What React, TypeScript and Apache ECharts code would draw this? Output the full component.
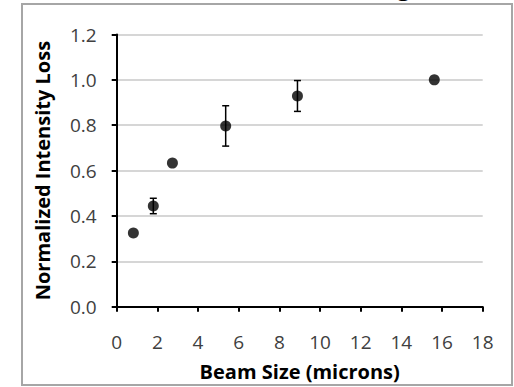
import React, { useEffect, useRef } from "react";
import * as echarts from "echarts";

const beamSize = [0.82, 1.8, 2.74, 5.36, 8.89, 15.62];
const intensityLoss = [0.325, 0.444, 0.633, 0.797, 0.929, 1.0];
const errorAmount = [0, 0.034, 0, 0.089, 0.068, 0];

const FONT = "Open Sans";

export default function App() {
  const ref = useRef<HTMLDivElement>(null);
  useEffect(() => {
    if (!ref.current) return;
    const chart = echarts.init(ref.current, null, { renderer: "svg" });
    const points = beamSize.map((x, i) => [x, intensityLoss[i]]);
    const errs = beamSize
      .map((x, i) => [x, intensityLoss[i], errorAmount[i]])
      .filter((d) => d[2] > 0);
    chart.setOption({
      animation: false,
      backgroundColor: "#ffffff",
      grid: { left: 116.7, right: 31.3, top: 34.5, bottom: 80.3, containLabel: false },
      graphic: [
        {
          type: "rect",
          shape: { x: 22, y: 4, width: 490, height: 381 },
          style: { fill: "none", stroke: "#a6a6a6", lineWidth: 2 },
          z: -1,
        },
        {
          type: "text",
          x: 397,
          y: -27,
          style: { text: "g", fill: "#000", font: `bold 24px ${FONT}` },
        },
      ],
      xAxis: {
        type: "value",
        min: 0,
        max: 18,
        interval: 2,
        name: "Beam Size (microns)",
        nameLocation: "middle",
        nameGap: 55,
        nameTextStyle: { fontFamily: FONT, fontWeight: "bold", fontSize: 20, color: "#000" },
        axisLine: { show: true, onZero: false, lineStyle: { color: "#000", width: 2 } },
        axisTick: { show: true, length: 5, lineStyle: { color: "#000", width: 2 } },
        axisLabel: { fontFamily: FONT, fontSize: 19, color: "#404040", margin: 26 },
        splitLine: { show: false },
      },
      yAxis: {
        type: "value",
        min: 0,
        max: 1.2,
        interval: 0.2,
        name: "Normalized Intensity Loss",
        nameLocation: "middle",
        nameGap: 64,
        nameTextStyle: { fontFamily: FONT, fontWeight: "bold", fontSize: 20, color: "#000" },
        axisLine: { show: true, lineStyle: { color: "#000", width: 2 } },
        axisTick: { show: true, length: 5, lineStyle: { color: "#000", width: 2 } },
        axisLabel: {
          fontFamily: FONT,
          fontSize: 19,
          color: "#404040",
          margin: 20,
          formatter: (v: number) => v.toFixed(1),
        },
        splitLine: { show: true, lineStyle: { color: "#c8c8c8", width: 1.5 } },
      },
      series: [
        {
          type: "custom",
          data: errs,
          z: 3,
          renderItem: (params: any, api: any) => {
            const x = api.value(0);
            const y = api.value(1);
            const e = api.value(2);
            const top = api.coord([x, y + e]);
            const bot = api.coord([x, y - e]);
            const style = { stroke: "#000", lineWidth: 1.5 };
            const cap = 3.5;
            return {
              type: "group",
              children: [
                { type: "line", shape: { x1: top[0], y1: top[1], x2: bot[0], y2: bot[1] }, style },
                { type: "line", shape: { x1: top[0] - cap, y1: top[1], x2: top[0] + cap, y2: top[1] }, style },
                { type: "line", shape: { x1: bot[0] - cap, y1: bot[1], x2: bot[0] + cap, y2: bot[1] }, style },
              ],
            };
          },
        },
        {
          type: "scatter",
          data: points,
          symbol: "circle",
          symbolSize: 11,
          itemStyle: { color: "#000" },
          z: 4,
        },
      ],
    });
    return () => chart.dispose();
  }, []);
  return <div ref={ref} style={{ width: 514, height: 387, position: "absolute", left: 0, top: 0 }} />;
}
